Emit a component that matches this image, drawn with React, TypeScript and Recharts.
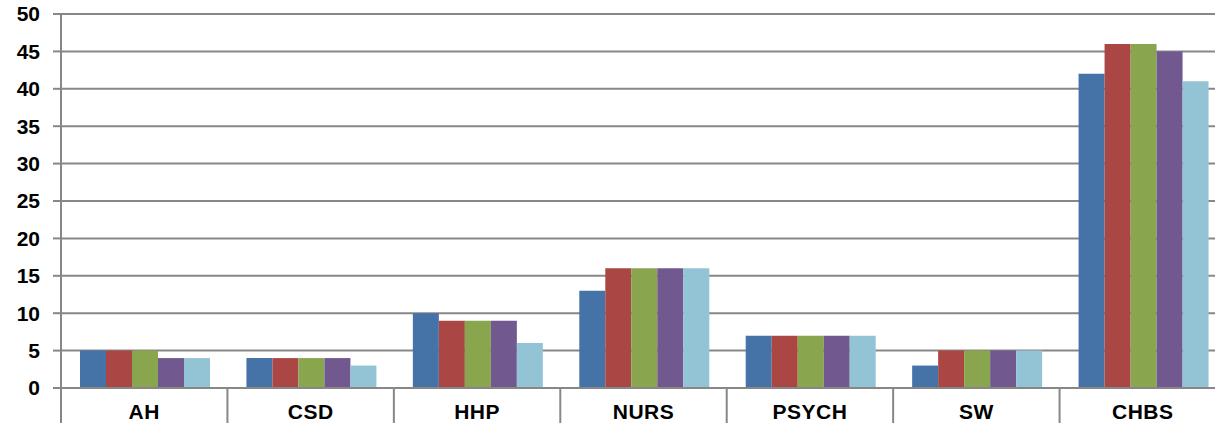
import React from "react";
import { BarChart, Bar, XAxis, YAxis, CartesianGrid } from "recharts";

const categories = ["AH", "CSD", "HHP", "NURS", "PSYCH", "SW", "CHBS"];
const series1 = [5, 4, 10, 13, 7, 3, 42];
const series2 = [5, 4, 9, 16, 7, 5, 46];
const series3 = [5, 4, 9, 16, 7, 5, 46];
const series4 = [4, 4, 9, 16, 7, 5, 45];
const series5 = [4, 3, 6, 16, 7, 5, 41];
const yTicks = [0, 5, 10, 15, 20, 25, 30, 35, 40, 45, 50];

const seriesKeys = ["s1", "s2", "s3", "s4", "s5"];
const colors = ["#4572A7", "#AA4643", "#89A54E", "#71588F", "#93C4D5"];

const data = categories.map((c, i) => ({
  name: c,
  s1: series1[i],
  s2: series2[i],
  s3: series3[i],
  s4: series4[i],
  s5: series5[i],
}));

const GRID = "#878787";
const FONT = "'Liberation Sans', Arial, sans-serif";

const XTick = (props: any) => {
  const { x, y, payload, width } = props;
  const half = payload && payload.offset ? payload.offset : width / categories.length / 2;
  const left = x - half;
  return (
    <g>
      <line x1={left} y1={y} x2={left} y2={y + 40} stroke={GRID} strokeWidth={2} />
      <text
        x={x}
        y={y + 31}
        textAnchor="middle"
        fontFamily={FONT}
        fontWeight="bold"
        fontSize={21}
        letterSpacing={0.5}
        fill="#000"
      >
        {payload.value}
      </text>
    </g>
  );
};

export default function App() {
  return (
    <div style={{ position: "absolute", left: 0, top: 0, width: 1215, height: 423, overflow: "hidden", background: "#fff" }}>
      <BarChart
        width={1226}
        height={423}
        data={data}
        margin={{ top: 14, right: 0, left: 0, bottom: 0 }}
        barCategoryGap={19}
        barGap={0}
      >
        <CartesianGrid horizontal={true} vertical={false} stroke={GRID} strokeWidth={2} />
        <XAxis
          dataKey="name"
          height={35}
          axisLine={{ stroke: GRID, strokeWidth: 2 }}
          tickLine={false}
          tickSize={0}
          tickMargin={0}
          interval={0}
          tick={<XTick />}
        />
        <YAxis
          width={61}
          domain={[0, 50]}
          ticks={yTicks}
          interval={0}
          axisLine={{ stroke: GRID, strokeWidth: 2 }}
          tickLine={{ stroke: GRID, strokeWidth: 2 }}
          tickSize={8}
          tickMargin={13}
          tick={{ fill: "#000", fontSize: 21, fontWeight: "bold", fontFamily: FONT }}
        />
        {seriesKeys.map((k, i) => (
          <Bar key={k} dataKey={k} fill={colors[i]} isAnimationActive={false} />
        ))}
      </BarChart>
    </div>
  );
}
